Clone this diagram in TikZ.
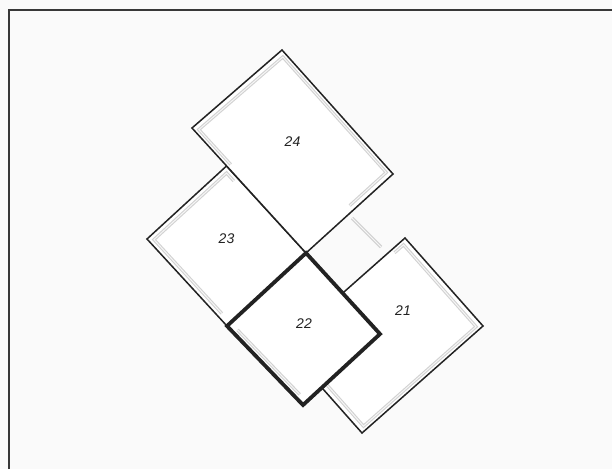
\documentclass[tikz,border=0pt]{standalone}
\usepackage{fontspec}
\newfontfamily\labfont{Liberation Sans}
\usetikzlibrary{calc}
\definecolor{ink}{HTML}{222222}
\definecolor{bg}{HTML}{FAFAFA}
\tikzset{
  panel/.style={fill=white, draw=ink, line width=1.5pt, line join=miter},
  mainpanel/.style={fill=white, draw=ink, line width=3.8pt, line join=miter},
  inset/.style={draw=gray!35, double=white!93!gray, double distance=1pt, line width=1.1pt, line join=miter},
  lab/.style={font=\labfont\itshape\fontsize{14}{14}\selectfont, text=ink, inner sep=0pt},
  frameline/.style={draw=ink!90, line width=2pt}
}
\begin{document}
\begin{tikzpicture}[x=1pt,y=-1pt]
\useasboundingbox (0,0) rectangle (612,469);
\fill[bg] (0,0) rectangle (612,469);
\draw[frameline] (8.5,469) -- (8.5,10) -- (612,10);

% panel 24
\coordinate (aT) at (282,50);
\coordinate (aL) at (192,128);
\coordinate (aR) at (393,174);
\coordinate (aB) at (306,253);
\coordinate (aC) at ($(aT)!0.5!(aB)$);
% panel 23
\coordinate (bT) at (226.5,166);
\coordinate (bL) at (147,239);
\coordinate (bB) at (227,326);
\coordinate (bR) at (306,253);
\coordinate (bC) at ($(bT)!0.5!(bB)$);
% panel 22
\coordinate (cT) at (306,253);
\coordinate (cL) at (227,326);
\coordinate (cR) at (380,334);
\coordinate (cB) at (303,405);
\coordinate (cC) at ($(cT)!0.5!(cB)$);
% panel 21
\coordinate (dT) at (405,238);
\coordinate (dR) at (483,326);
\coordinate (dB) at (362,433);
\coordinate (dL) at (284,345);
\coordinate (dC) at ($(dT)!0.5!(dB)$);

% inset corners
\foreach \p in {a,b,c,d}{
  \foreach \v in {T,L,R,B}{
    \coordinate (\p\v i) at ($(\p\v)!7pt!(\p C)$);
  }
}

% panel 21
\path[panel] (dT) -- (dR) -- (dB) -- (dL) -- cycle;
\draw[inset] ($(dTi)!0.08!(dLi)$) -- (dTi) -- (dRi) -- (dBi) -- (dLi);
% panel 23
\path[panel] (bT) -- (bL) -- (bB) -- (bR) -- cycle;
\draw[inset] ($(bTi)!0.1!(bRi)$) -- (bTi) -- (bLi) -- ($(bLi)!0.93!(bBi)$);
% panel 24
\path[panel] (aT) -- (aR) -- (aB) -- (aL) -- cycle;
\draw[inset] ($(aLi)!0.3!(aBi)$) -- (aLi) -- (aTi) -- (aRi) -- ($(aRi)!0.45!(aBi)$);
% faint mark between 24 and 21
\coordinate (m1) at (352,218);
\coordinate (m2) at (381,247);
\draw[inset] (m1) -- (m2);
% panel 22 (current)
\path[mainpanel] (cT) -- (cR) -- (cB) -- (cL) -- cycle;
\draw[inset] ($(cLi)!0.05!(cBi)$) -- ($(cLi)!0.95!(cBi)$);

\node[lab] (n24) at (292.5,142) {24};
\node[lab] (n23) at (226.5,238.5) {23};
\node[lab] (n22) at (304,324) {22};
\node[lab] (n21) at (403,311) {21};
\end{tikzpicture}
\end{document}
